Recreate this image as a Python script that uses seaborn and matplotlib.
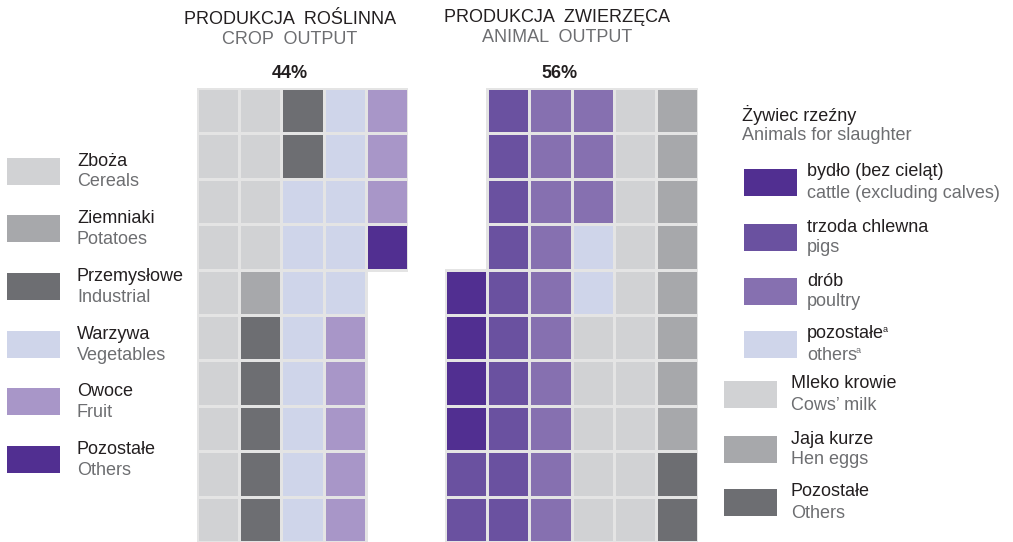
import numpy as np
import matplotlib
matplotlib.use("Agg")
import matplotlib.pyplot as plt
from matplotlib.colors import ListedColormap, to_rgba
from matplotlib.patches import Rectangle
import seaborn as sns

# Data (one cell = 1% of output)
crop_pl = ["Zboża", "Ziemniaki", "Przemysłowe", "Warzywa", "Owoce", "Pozostałe"]
crop_en = ["Cereals", "Potatoes", "Industrial", "Vegetables", "Fruit", "Others"]
crop_cells = [14, 1, 7, 13, 8, 1]
crop_share = 44

animal_pl = ["bydło (bez cieląt)", "trzoda chlewna", "drób", "pozostałe",
             "Mleko krowie", "Jaja kurze", "Pozostałe"]
animal_en = ["cattle (excluding calves)", "pigs", "poultry", "others",
             "Cows’ milk", "Hen eggs", "Others"]
animal_note = [False, False, False, True, False, False, False]
animal_cells = [4, 12, 13, 2, 15, 8, 2]
animal_share = 56

# Colours
LGREY, MGREY, DGREY = "#d1d2d4", "#a7a8ab", "#6d6e72"
LAV, FRUIT, DPURP, PIGS, POULTRY = "#cfd5ea", "#a896c8", "#512f91", "#6a51a0", "#8670b0"
crop_colors = [LGREY, MGREY, DGREY, LAV, FRUIT, DPURP]
animal_colors = [DPURP, PIGS, POULTRY, LAV, LGREY, MGREY, DGREY]

BLACK, GREY = "#231f20", "#6d6e71"
LINE = "#e4e4e4"
W, H = 1013, 542


def waffle(counts, ncols, nrows=10, pad_front=False):
    codes = []
    for i, c in enumerate(counts):
        codes += [i] * c
    empty = [-1] * (ncols * nrows - len(codes))
    codes = empty + codes if pad_front else codes + empty
    # filled column by column, top to bottom
    return np.array(codes).reshape(ncols, nrows).T


fig = plt.figure(figsize=(W / 100, H / 100), dpi=100)
plt.rcParams["font.family"] = ["Liberation Sans", "DejaVu Sans"]


def draw_grid(grid, colors, x0, x1):
    hax = fig.add_axes([x0 / W, 0, (x1 - x0) / W, (H - 88) / H])
    sns.heatmap(grid, mask=grid < 0, cmap=ListedColormap(colors),
                vmin=-0.5, vmax=len(colors) - 0.5, cbar=False,
                linewidths=0.8, linecolor=LINE,
                xticklabels=False, yticklabels=False, ax=hax)
    # no outline around the empty cells
    mesh = hax.collections[0]
    ec = np.array([to_rgba(LINE) if v >= 0 else (0, 0, 0, 0) for v in grid.ravel()])
    mesh.set_edgecolor(ec)
    hax.axis("off")


draw_grid(waffle(crop_cells, 5), crop_colors, 197, 408)
draw_grid(waffle(animal_cells, 6, pad_front=True), animal_colors, 445, 698)

# overlay in pixel coordinates for texts and legends
ax = fig.add_axes([0, 0, 1, 1], facecolor="none")
ax.set_xlim(0, W)
ax.set_ylim(H, 0)
ax.axis("off")

fs = 13
ax.text(290, 19, "PRODUKCJA  ROŚLINNA", ha="center", va="center", fontsize=fs, color=BLACK)
ax.text(290, 40, "CROP  OUTPUT", ha="center", va="center", fontsize=fs, color=GREY)
ax.text(290, 73, f"{crop_share}%", ha="center", va="center", fontsize=fs,
        fontweight="bold", color=BLACK)
ax.text(557, 17, "PRODUKCJA  ZWIERZĘCA", ha="center", va="center", fontsize=fs, color=BLACK)
ax.text(557, 38, "ANIMAL  OUTPUT", ha="center", va="center", fontsize=fs, color=GREY)
ax.text(560, 73, f"{animal_share}%", ha="center", va="center", fontsize=fs,
        fontweight="bold", color=BLACK)


def legend_item(x, xt, yc, color, pl, en, note=False):
    ax.add_patch(Rectangle((x, yc - 13.5), 53, 27, facecolor=color, edgecolor="none"))
    t1 = ax.text(xt, yc - 10, pl, ha="left", va="center", fontsize=fs, color=BLACK)
    t2 = ax.text(xt, yc + 11, en, ha="left", va="center", fontsize=fs, color=GREY)
    if note:
        for t, c in [(t1, BLACK), (t2, GREY)]:
            ax.annotate("a", xy=(1, 0.78), xycoords=t, xytext=(-1, 0),
                        textcoords="offset points", ha="left", va="center",
                        fontsize=6.5, color=c)


# left legend (crop output)
for i in range(len(crop_pl)):
    legend_item(7, 77, 171 + i * 57.7, crop_colors[i], crop_pl[i], crop_en[i])

# right legend (animal output)
ax.text(742, 115, "Żywiec rzeźny", ha="left", va="center", fontsize=fs, color=BLACK)
ax.text(742, 136, "Animals for slaughter", ha="left", va="center", fontsize=fs, color=GREY)
for i, yc in enumerate([182, 237, 291, 344]):
    legend_item(744, 807, yc, animal_colors[i], animal_pl[i], animal_en[i], animal_note[i])
for j, yc in enumerate([394, 449, 502]):
    i = j + 4
    legend_item(724, 791, yc, animal_colors[i], animal_pl[i], animal_en[i], animal_note[i])

fig.savefig("out.png", dpi=100)
